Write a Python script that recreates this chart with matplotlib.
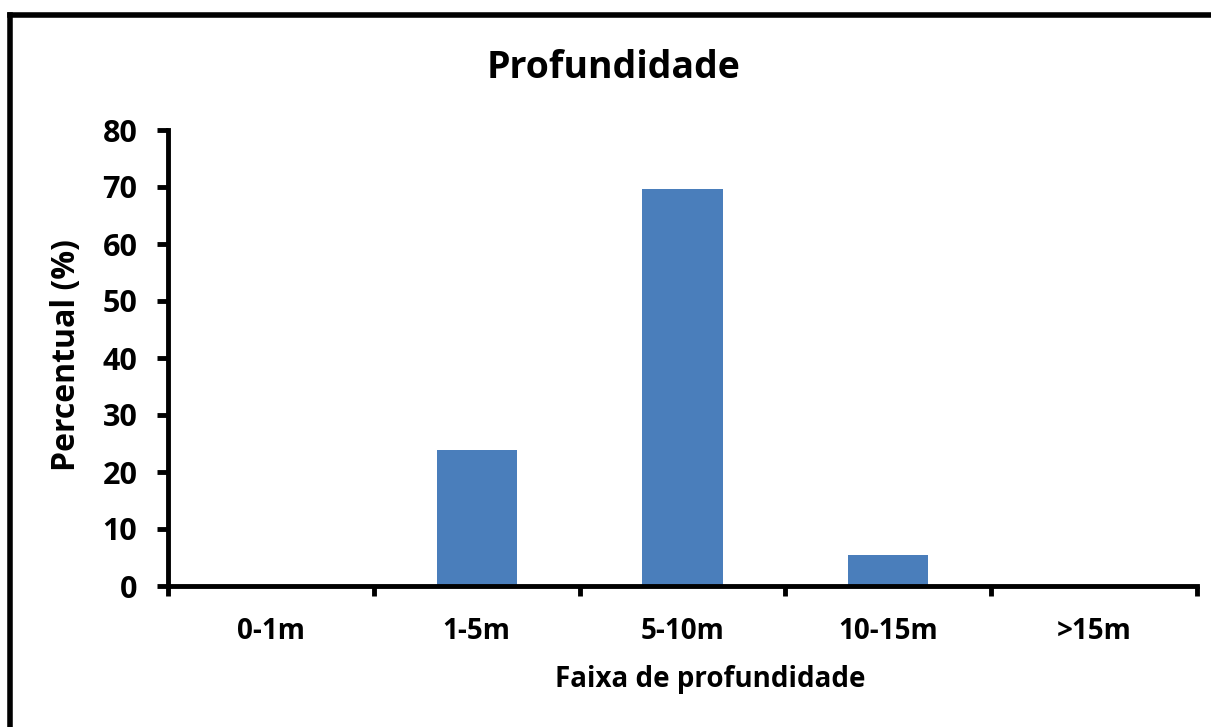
import matplotlib.pyplot as plt
from matplotlib.lines import Line2D

categories = ['0-1m', '1-5m', '5-10m', '10-15m', '>15m']
percentual = [0.0, 23.9, 69.6, 5.4, 0.0]
y_ticks = [0, 10, 20, 30, 40, 50, 60, 70, 80]

plt.rcParams['font.family'] = ['Open Sans', 'DejaVu Sans']
plt.rcParams['font.weight'] = 'bold'

W, H = 1211, 727
fig = plt.figure(figsize=(W / 100, H / 100), dpi=100)
ax = fig.add_axes([168 / W, 1 - 586 / H, (1197 - 168) / W, (586 - 130) / H])

x = range(len(categories))
ax.bar(x, percentual, width=0.39, color='#4a7ebb', zorder=2)

ax.set_xlim(-0.5, len(categories) - 0.5)
ax.set_ylim(0, 80)
ax.set_yticks(y_ticks)
ax.set_yticklabels([str(v) for v in y_ticks], fontsize=22, fontweight='bold')

# category labels centred, tick marks at the boundaries (Excel style)
ax.set_xticks([i + 0.5 for i in range(-1, len(categories))])
ax.set_xticklabels([])
ax.set_xticks(list(x), minor=True)
ax.set_xticklabels(categories, minor=True, fontsize=20, fontweight='bold')
ax.tick_params(axis='x', which='minor', length=0, pad=22)
ax.tick_params(axis='x', which='major', length=7, width=3.5, direction='out')
ax.tick_params(axis='y', length=8, width=3.5, direction='out', pad=14)

for side in ['top', 'right']:
    ax.spines[side].set_visible(False)
for side in ['left', 'bottom']:
    ax.spines[side].set_linewidth(3.5)

fig.text(710 / W, 1 - 687 / H, 'Faixa de profundidade', fontsize=20,
         fontweight='bold', ha='center', va='baseline')
fig.text(67 / W, 1 - 355 / H, 'Percentual (%)', fontsize=23, fontweight='bold',
         rotation=90, ha='center', va='center')
fig.text(614 / W, 1 - 78 / H, 'Profundidade', fontsize=27, fontweight='bold',
         ha='center', va='baseline')

# chart border: only the top and left edges show in the picture
fig.add_artist(Line2D([10 / W, 1.0], [1 - 14.5 / H, 1 - 14.5 / H],
                      transform=fig.transFigure, color='black', linewidth=4,
                      solid_capstyle='projecting'))
fig.add_artist(Line2D([10 / W, 10 / W], [1 - 14.5 / H, 0.0],
                      transform=fig.transFigure, color='black', linewidth=4,
                      solid_capstyle='projecting'))

fig.savefig('out.png', dpi=100)
